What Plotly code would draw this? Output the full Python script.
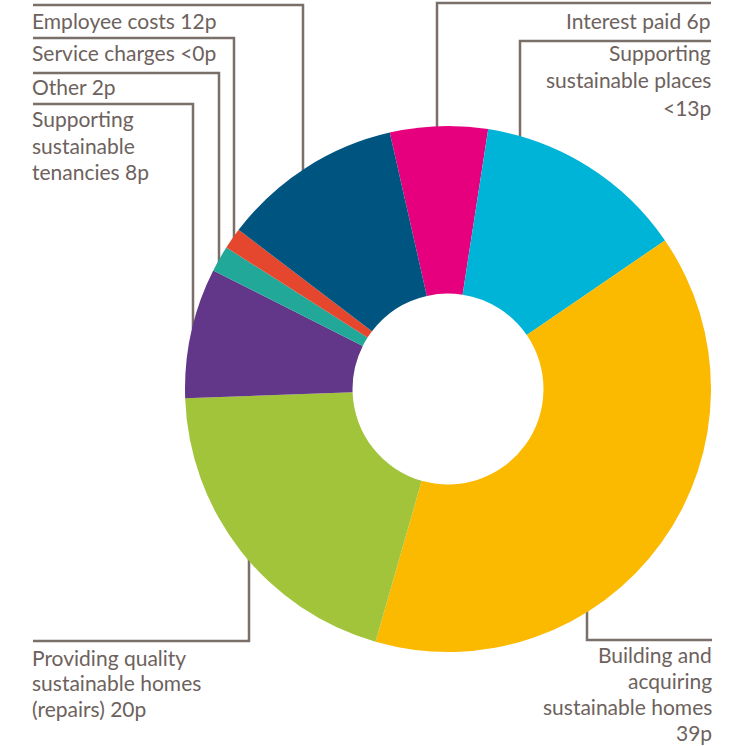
import math
import plotly.graph_objects as go

W, H = 732, 746

# ---- data ----
categories = ["Interest paid", "Supporting sustainable places", "Building and acquiring sustainable homes",
              "Providing quality sustainable homes (repairs)", "Supporting sustainable tenancies",
              "Other", "Service charges", "Employee costs"]
values = [6.0, 13.0, 39.0, 20.0, 8.0, 1.6, 1.3, 11.1]
value_labels = ["6p", "<13p", "39p", "20p", "8p", "2p", "<0p", "12p"]
label_lines = [
    ["Interest paid 6p"],
    ["Supporting", "sustainable places", "<13p"],
    ["Building and", "acquiring", "sustainable homes", "39p"],
    ["Providing quality", "sustainable homes", "(repairs) 20p"],
    ["Supporting", "sustainable", "tenancies 8p"],
    ["Other 2p"],
    ["Service charges <0p"],
    ["Employee costs 12p"],
]
colors = ["#e6007e", "#00b4d8", "#fbba00", "#a1c43b", "#623688", "#21a898", "#e4472d", "#005580"]

# ---- layout geometry (pixels) ----
CX, CY, R = 448, 389, 263
HOLE = 0.363
ROTATION = -12.8

# label placement: (side, text x, first-line centre y, line spacing,
#                   horizontal line y, line start x, vertical drop x, goes_up)
label_layout = [
    ("right", 712, 20, 26.7, 3, 711, 437, False),
    ("right", 712, 52, 28.0, 41, 711, 520, False),
    ("right", 713, 654, 26.0, 640, 712, 587, True),
    ("left", 31, 657, 25.5, 641, 33, 249, True),
    ("left", 31, 118, 27.0, 104, 33, 193, False),
    ("left", 31, 87, 27.0, 73, 33, 219, False),
    ("left", 31, 52, 27.0, 38, 33, 234, False),
    ("left", 31, 20, 27.0, 5, 33, 303, False),
]

LINE_COLOR = "#7a6f69"
TEXT_COLOR = "#6d625d"
FONT = "Lato"
FSIZE = 21


def px(x):
    return x / W


def py(y):
    return 1 - y / H


fig = go.Figure(go.Pie(
    labels=categories,
    values=values,
    marker=dict(colors=colors, line=dict(width=0)),
    hole=HOLE,
    sort=False,
    direction="clockwise",
    rotation=ROTATION,
    textinfo="none",
    hoverinfo="label+value",
    showlegend=False,
    domain=dict(x=[px(CX - R), px(CX + R)], y=[py(CY + R), py(CY - R)]),
))

shapes = []
annotations = []
for lines, (side, tx, ty, lh, hy, hx0, vx, up) in zip(label_lines, label_layout):
    # vertical end on the ring edge (a little inside, hidden under the pie)
    dx = vx - CX
    dy = math.sqrt(max(R * R - dx * dx, 0))
    vend = CY + dy - 4 if up else CY - dy + 4
    path = f"M {px(hx0)},{py(hy)} L {px(vx)},{py(hy)} L {px(vx)},{py(vend)}"
    shapes.append(dict(type="path", xref="paper", yref="paper", path=path,
                       line=dict(color=LINE_COLOR, width=2.5), layer="below"))
    for i, t in enumerate(lines):
        annotations.append(dict(
            x=px(tx), y=py(ty + i * lh), xref="paper", yref="paper",
            text=t, showarrow=False,
            xanchor="right" if side == "right" else "left", yanchor="middle",
            align="right" if side == "right" else "left",
            font=dict(family=FONT, size=FSIZE, color=TEXT_COLOR),
            borderpad=0,
        ))

fig.update_layout(
    width=W, height=H,
    margin=dict(l=0, r=0, t=0, b=0),
    paper_bgcolor="white", plot_bgcolor="white",
    shapes=shapes, annotations=annotations,
)

fig.write_html("out.html")
